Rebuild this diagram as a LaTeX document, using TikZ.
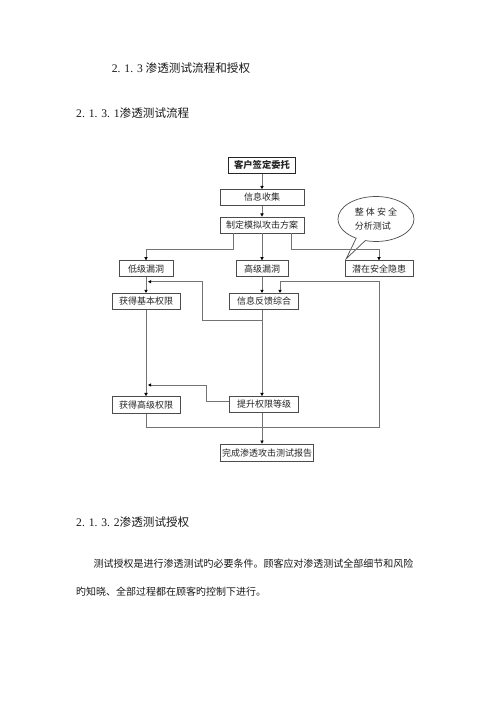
\documentclass[tikz,border=0pt]{standalone}
\usepackage{fontspec}
\setmainfont{Liberation Serif}
\newfontfamily\cjk{Noto Sans CJK SC}
\usetikzlibrary{arrows.meta,calc,shapes.callouts}
\begin{document}
\begin{tikzpicture}[x=1pt,y=-1pt,
  box/.style={draw=black!70, line width=0.7pt, inner sep=0pt, minimum height=16pt, font=\cjk\fontsize{9}{10}\selectfont, text=black!85},
  conn/.style={draw=black!55, line width=0.7pt},
  arr/.style={-{Triangle[length=3.2pt,width=3.2pt,color=black]}},
  txt/.style={inner sep=0pt, anchor=west, text=black!90},
  head/.style={txt, font=\fontsize{11.6}{13}\selectfont},
  para/.style={txt, font=\cjk\fontsize{10}{12}\selectfont}]

\useasboundingbox (0,0) rectangle (500,707);
\fill[white] (0,0) rectangle (500,707);

% headings and text
\node[head] (h1) at (111.7,68.3) {2. 1. 3 {\cjk 渗透测试流程和授权}};
\node[head] (h2) at (76,113.3) {2. 1. 3. 1{\cjk 渗透测试流程}};
\node[head] (h3) at (76,521.7) {2. 1. 3. 2{\cjk 渗透测试授权}};
\node[para] (p1) at (93.3,564) {测试授权是进行渗透测试旳必要条件。顾客应对渗透测试全部细节和风险};
\node[para] (p2) at (76,592) {旳知晓、全部过程都在顾客旳控制下进行。};

% boxes
\node[box, minimum width=67pt, line width=1.1pt, draw=black!85, font=\cjk\bfseries\fontsize{9.3}{10}\selectfont] (kh) at (262,165.3) {客户签定委托};
\node[box, minimum width=84pt] (xx) at (262,197.5) {信息收集};
\node[box, minimum width=84pt] (zd) at (262,225) {制定模拟攻击方案};
\node[box, minimum width=54pt] (dj) at (146,268.7) {低级漏洞};
\node[box, minimum width=52pt] (gj) at (262,268.7) {高级漏洞};
\node[box, minimum width=68pt] (qz) at (379,268.7) {潜在安全隐患};
\node[box, minimum width=68pt] (jb) at (146,301.3) {获得基本权限};
\node[box, minimum width=69pt] (fk) at (264,301.3) {信息反馈综合};
\node[box, minimum width=68pt, minimum height=17pt] (gq) at (146,405) {获得高级权限};
\node[box, minimum width=69pt] (ts) at (264,404.5) {提升权限等级};
\node[box, minimum width=92.6pt, minimum height=17.5pt] (wc) at (267,452.8) {完成渗透攻击测试报告};

% callout
\node[ellipse callout, draw=black!70, line width=0.7pt, minimum width=76pt, minimum height=45pt, inner sep=0pt, align=left, font=\cjk\fontsize{9}{13.5}\selectfont, text=black!85, callout absolute pointer={($(qz.north west)+(1.5,-1.5)$)}] (cb) at (376,219) {整 体 安 全\\分析测试};

% helper coordinates
\coordinate (yb) at (0,249);
\coordinate (yt) at (0,281.7);
\coordinate (ym) at (0,320);
\coordinate (yg) at (0,385);
\coordinate (yd) at (0,427.3);
\coordinate (xl1) at (202,0);
\coordinate (xl2) at (206,0);
\coordinate (xr) at (379,0);
\coordinate (b1) at ($(zd.south west)+(13.3,0)$);
\coordinate (b2) at ($(zd.south east)+(-12.7,0)$);

% connectors
\draw[conn,arr] (kh.south) -- (xx.north);
\draw[conn,arr] (xx.south) -- (zd.north);
\draw[conn,arr] (b1) -- (b1 |- yb) -| (dj.north);
\draw[conn,arr] (zd.south) -- (gj.north);
\draw[conn,arr] (b2) -- (b2 |- yb) -| (qz.north);
\draw[conn,arr] (dj.south) -- (jb.north);
\draw[conn,arr] (gj.south) -- (gj.south |- fk.north);
\draw[conn,arr] (jb.south) -- (gq.north);
\draw[conn,arr] (gj.south |- fk.south) -- (gj.south |- ts.north);
\draw[conn,arr] (gj.south |- ts.south) -- (gj.south |- wc.north);
\draw[conn,arr] (gj.south |- ym) -| (xl1 |- yt) -- ($(jb.north |- yt)+(2,0)$);
\draw[conn,arr] ($(ts.west)+(0,-2.8)$) -| (xl2 |- yg) -- ($(gq.north |- yg)+(2,0)$);
\draw[conn,arr] (gq.south) |- (xr |- yd) -- (xr |- yt) -| ($(fk.north)+(16,0)$);
\end{tikzpicture}
\end{document}
